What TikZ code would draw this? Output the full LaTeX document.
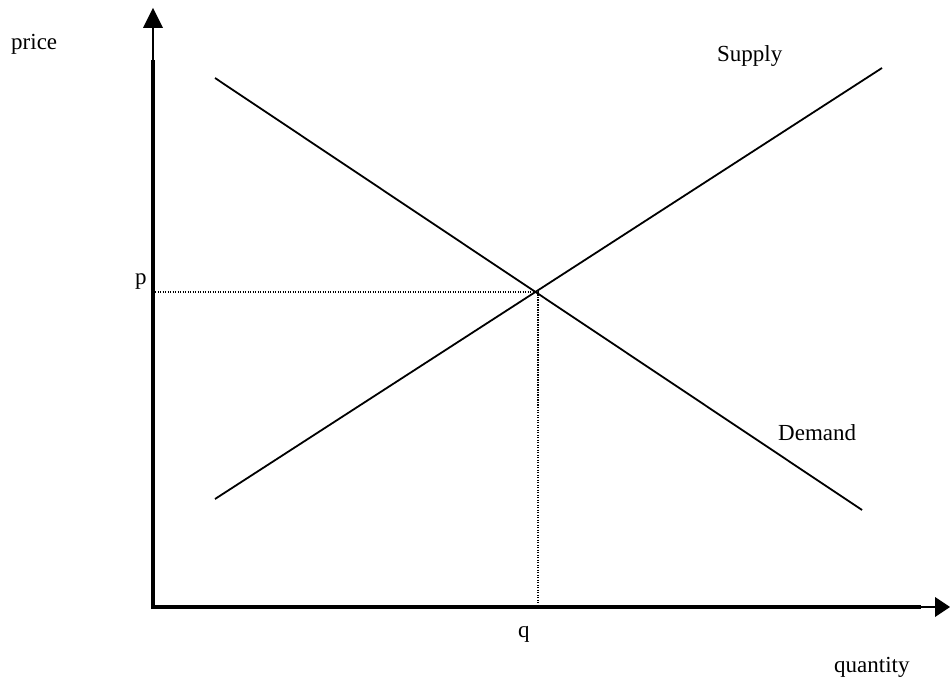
\documentclass[tikz,border=0pt]{standalone}
\usepackage{fontspec}
\setmainfont{Liberation Serif}
\begin{document}
\begin{tikzpicture}[x=1pt,y=-1pt,
  axis/.style={line width=4pt},
  thinaxis/.style={line width=1.5pt},
  curve/.style={line width=1.8pt},
  guide/.style={line width=1.8pt,dash pattern=on 1.4pt off 1.1pt},
  tip/.style={fill=black},
  lbl/.style={inner sep=0pt,font=\fontsize{23}{25}\selectfont}]
\useasboundingbox (0,0) rectangle (950,684);
% axes coordinates
\coordinate (O) at (153,607);
\coordinate (Ytop) at (153,60);
\coordinate (Yarr) at (153,28);
\coordinate (Xend) at (921,607);
\coordinate (Xarr) at (936,607);
\coordinate (E) at (538,292);
\coordinate (Pax) at (155,292);
\coordinate (Qax) at (538,605);
\coordinate (D1) at (215,78);
\coordinate (D2) at (862,510);
\coordinate (S1) at (215,499);
\coordinate (S2) at (882,68);
% axes
\draw[axis] (O) ++(0,2) -- (Ytop);
\draw[thinaxis] (Ytop) -- (Yarr);
\fill[tip] (143,28) -- (163,28) -- (153,8) -- cycle;
\draw[axis] (O) ++(-2,0) -- (Xend);
\draw[thinaxis] (Xend) -- (Xarr);
\fill[tip] (935,597) -- (935,617) -- (950,607) -- cycle;
% curves
\draw[curve] (D1) -- (D2);
\draw[curve] (S1) -- (S2);
% guides
\draw[guide] (Pax) -- (E);
\draw[guide] (E) -- (Qax);
% labels
\node[lbl,anchor=base west] (price) at (11,50) {price};
\node[lbl,anchor=base west] (p) at (135,285) {p};
\node[lbl,anchor=base west] (q) at (518,637) {q};
\node[lbl,anchor=base west] (quantity) at (834,672) {quantity};
\node[lbl,anchor=base west] (supply) at (717,62) {Supply};
\node[lbl,anchor=base west] (demand) at (778,440) {Demand};
\end{tikzpicture}
\end{document}
